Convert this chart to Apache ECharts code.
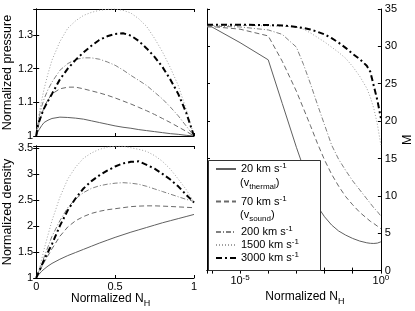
<!DOCTYPE html>
<html><head><meta charset="utf-8">
<script src="https://cdn.jsdelivr.net/npm/echarts@6.0.0/dist/echarts.min.js"></script>
<style>html,body{margin:0;padding:0;background:#fff}#c{width:415px;height:311px}</style>
</head><body><div id="c"></div>
<script>
// ---- data ----
const seriesNames = ['20', '70', '200', '1500', '3000'];
const legendLabels = ['20 km s{sup|-1}', '70 km s{sup|-1}', '200 km s{sup|-1}', '1500 km s{sup|-1}', '3000 km s{sup|-1}'];
const legendNotes = ['(v{sub|thermal})', '(v{sub|sound})'];
const nH = [0, 0.01, 0.02, 0.035, 0.05, 0.075, 0.1, 0.15, 0.2, 0.25, 0.3, 0.35, 0.4, 0.45, 0.5, 0.55, 0.6, 0.65, 0.7, 0.75, 0.8, 0.85, 0.9, 0.95, 1];
const pressure20   = [1.0, 1.012, 1.02, 1.031, 1.04, 1.047, 1.052, 1.056, 1.055, 1.053, 1.05, 1.045, 1.04, 1.035, 1.03, 1.026, 1.023, 1.019, 1.016, 1.013, 1.01, 1.007, 1.005, 1.002, 1.0];
const pressure70   = [1.0, 1.022, 1.04, 1.064, 1.085, 1.108, 1.125, 1.14, 1.145, 1.145, 1.14, 1.134, 1.128, 1.121, 1.113, 1.104, 1.095, 1.085, 1.075, 1.064, 1.052, 1.04, 1.027, 1.014, 1.0];
const pressure200  = [1.0, 1.032, 1.06, 1.088, 1.11, 1.138, 1.16, 1.195, 1.215, 1.227, 1.232, 1.232, 1.228, 1.22, 1.21, 1.196, 1.18, 1.165, 1.15, 1.13, 1.11, 1.086, 1.06, 1.03, 1.0];
const pressure1500 = [1.0, 1.037, 1.07, 1.106, 1.14, 1.185, 1.225, 1.28, 1.32, 1.342, 1.358, 1.367, 1.373, 1.376, 1.377, 1.373, 1.365, 1.348, 1.325, 1.29, 1.25, 1.203, 1.15, 1.08, 1.0];
const pressure3000 = [1.0, 1.03, 1.045, 1.065, 1.082, 1.104, 1.125, 1.168, 1.2, 1.226, 1.248, 1.268, 1.285, 1.296, 1.303, 1.305, 1.298, 1.282, 1.26, 1.235, 1.205, 1.168, 1.125, 1.07, 1.0];
const density20   = [1.0, 1.045, 1.08, 1.13, 1.17, 1.23, 1.28, 1.36, 1.43, 1.49, 1.55, 1.61, 1.67, 1.725, 1.78, 1.83, 1.88, 1.925, 1.97, 2.015, 2.06, 2.1, 2.14, 2.18, 2.22];
const density70   = [1.0, 1.06, 1.12, 1.21, 1.3, 1.43, 1.56, 1.8, 1.98, 2.1, 2.18, 2.24, 2.28, 2.31, 2.33, 2.35, 2.37, 2.38, 2.385, 2.385, 2.38, 2.373, 2.365, 2.357, 2.35];
const density200  = [1.0, 1.07, 1.15, 1.27, 1.4, 1.6, 1.8, 2.1, 2.35, 2.52, 2.64, 2.72, 2.77, 2.8, 2.82, 2.83, 2.82, 2.8, 2.76, 2.71, 2.66, 2.61, 2.56, 2.51, 2.47];
const density1500 = [1.0, 1.09, 1.18, 1.36, 1.55, 1.83, 2.1, 2.55, 2.9, 3.13, 3.3, 3.4, 3.47, 3.51, 3.53, 3.53, 3.5, 3.47, 3.43, 3.35, 3.24, 3.09, 2.9, 2.7, 2.45];
const density3000 = [1.0, 1.07, 1.14, 1.24, 1.35, 1.5, 1.65, 2.0, 2.3, 2.53, 2.72, 2.86, 2.97, 3.06, 3.14, 3.2, 3.23, 3.24, 3.17, 3.1, 3.0, 2.89, 2.76, 2.6, 2.45];
const nHlog = [6.7e-7, 1e-6, 1e-5, 1e-4, 3.16e-4, 1e-3, 1.78e-3, 3.16e-3, 5.62e-3, 1e-2, 1.78e-2, 3.16e-2, 5.62e-2, 0.1, 0.178, 0.316, 0.422, 0.562, 0.75, 1];
const mach20   = [32.6, 32.6, 30.5, 28.2, 22.35, 16.5, 13.8, 11.0, 8.6, 7.2, 6.1, 5.3, 4.75, 4.3, 3.95, 3.72, 3.65, 3.63, 3.68, 3.85];
const mach70   = [32.7, 32.65, 32.3, 31.4, 28.0, 24.0, 21.7, 19.4, 17.0, 14.8, 12.9, 11.3, 9.9, 8.8, 7.8, 7.0, 6.6, 6.3, 5.95, 5.6];
const mach200  = [32.7, 32.7, 32.6, 32.2, 31.6, 29.9, 27.6, 25.0, 22.2, 19.5, 16.8, 14.9, 13.4, 12.0, 10.8, 9.6, 9.0, 8.4, 7.9, 7.3];
const mach1500 = [32.8, 32.8, 32.8, 32.75, 32.7, 32.6, 32.3, 31.8, 31.2, 30.6, 29.9, 29.2, 28.4, 27.3, 26.0, 24.4, 23.2, 21.7, 19.6, 16.8];
const mach3000 = [32.9, 32.9, 32.9, 32.85, 32.8, 32.6, 32.45, 32.25, 31.95, 31.6, 31.1, 30.5, 29.8, 29.0, 28.3, 27.4, 26.6, 24.7, 22.8, 20.4];
const pressureTicks = ['1', '1.1', '1.2', '1.3'];
const densityTicks = ['1', '1.5', '2', '2.5', '3', '3.5'];
const nHTicks = ['0', '0.5', '1'];
const logTickLabels = {'-5': '10{sup|-5}', '0': '10{sup|0}'};

// ---- styling ----
const FONT = 'Liberation Sans, Arial, Helvetica, sans-serif';
const lineStyles = [
  {color: '#606060', width: 1, type: 'solid'},
  {color: '#6a6a6a', width: 1, type: [5, 3]},
  {color: '#808080', width: 1, type: [5, 2, 1, 2]},
  {color: '#a0a0a0', width: 1, type: [1, 2]},
  {color: '#000', width: 2, type: [6, 3, 2, 3]}
];
const legendCenters = [169, 201.5, 232, 245, 258];
const noteCenters = [182.5, 215];
const pressureSets = [pressure20, pressure70, pressure200, pressure1500, pressure3000];
const densitySets = [density20, density70, density200, density1500, density3000];
const machSets = [mach20, mach70, mach200, mach1500, mach3000];

const axLine = {show: true, lineStyle: {color: '#000', width: 1}};
const tick = {show: true, inside: true, length: 3, lineStyle: {color: '#000'}};
const lbl = {fontFamily: FONT, fontSize: 11, color: '#000'};
const supRich = {sup: {fontFamily: FONT, fontSize: 8, padding: [0, 0, 6, 0]}, sub: {fontFamily: FONT, fontSize: 8, padding: [8, 0, 0, 0]}};

function linAxis(grid, pos, min, max, interval, showLabel, ticks, extra) {
  return Object.assign({
    type: 'value', gridIndex: grid, position: pos, min: min, max: max, interval: interval,
    axisLine: axLine, axisTick: tick, splitLine: {show: false},
    axisLabel: Object.assign({show: showLabel, margin: 3, showMaxLabel: true, showMinLabel: true,
      formatter: function (v) { const s = String(+v.toFixed(2)); return ticks && ticks.indexOf(s) >= 0 ? s : ''; }}, lbl)
  }, extra || {});
}
function logLabel(v) {
  const e = Math.log10(v); const r = Math.round(e);
  if (Math.abs(e - r) > 1e-6) return '';
  return logTickLabels[String(r)] || '';
}
const xName = {fontFamily: FONT, fontSize: 12, color: '#000', rich: {sub: {fontFamily: FONT, fontSize: 9, padding: [9, 0, 0, 0]}}};

const xAxis = [
  linAxis(0, 'bottom', 0, 1, 0.5, false, nHTicks),
  linAxis(0, 'top', 0, 1, 0.5, false, nHTicks),
  linAxis(1, 'bottom', 0, 1, 0.5, true, nHTicks, {name: 'Normalized N{sub|H}', nameLocation: 'middle', nameGap: 10,
    nameTextStyle: Object.assign({padding: [0, 9, 0, 0]}, xName)}),
  linAxis(1, 'top', 0, 1, 0.5, false, nHTicks),
  {type: 'log', logBase: 10, gridIndex: 2, position: 'bottom', min: 6.7e-7, max: 1,
    axisLine: axLine, axisTick: tick, splitLine: {show: false}, minorTick: {show: false},
    axisLabel: Object.assign({margin: 3, formatter: logLabel, rich: supRich, showMinLabel: false}, lbl),
    name: 'Normalized N{sub|H}', nameLocation: 'middle', nameGap: 10,
    nameTextStyle: Object.assign({padding: [0, 0, 0, 22]}, xName)},
  {type: 'log', logBase: 10, gridIndex: 2, position: 'top', min: 6.7e-7, max: 1,
    axisLine: axLine, axisTick: tick, splitLine: {show: false}, axisLabel: {show: false}}
];
const yName = {fontFamily: FONT, fontSize: 12.5, color: '#000'};
const yAxis = [
  linAxis(0, 'left', 1, 1.377, 0.1, true, pressureTicks, {name: 'Normalized pressure', nameLocation: 'middle', nameGap: 19, nameTextStyle: yName}),
  linAxis(0, 'right', 1, 1.377, 0.1, false, pressureTicks),
  linAxis(1, 'left', 1, 3.534, 0.5, true, densityTicks, {name: 'Normalized density', nameLocation: 'middle', nameGap: 19, nameTextStyle: yName}),
  linAxis(1, 'right', 1, 3.534, 0.5, false, densityTicks),
  Object.assign(linAxis(2, 'right', 0, 35, 5, true, null, {name: 'M', nameLocation: 'middle', nameGap: 16, nameTextStyle: yName}),
    {axisLabel: Object.assign({margin: 4, showMaxLabel: true}, lbl)}),
  linAxis(2, 'left', 0, 35, 5, false, null)
];

const series = [];
[[pressureSets, nH, 0, 0], [densitySets, nH, 2, 2], [machSets, nHlog, 4, 4]].forEach(function (p) {
  p[0].forEach(function (vals, i) {
    series.push({
      name: seriesNames[i], type: 'line', xAxisIndex: p[2], yAxisIndex: p[3],
      data: vals.map(function (v, k) { return [p[1][k], v]; }),
      symbol: 'none', showSymbol: false, smooth: false,
      lineStyle: lineStyles[i], itemStyle: {color: lineStyles[i].color}, silent: true, animation: false, z: 2
    });
  });
});

const legend = seriesNames.map(function (n, i) {
  return {
    data: [n], left: 215, top: legendCenters[i] - 7, orient: 'vertical', padding: 0, itemGap: 0,
    itemWidth: 20, itemHeight: 10, selectedMode: false, z: 20,
    itemStyle: {opacity: 0, borderWidth: 0},
    formatter: function () { return legendLabels[i]; },
    textStyle: {fontFamily: FONT, fontSize: 11, color: '#000', rich: supRich}
  };
});

const graphic = [{type: 'rect', shape: {x: 208.5, y: 160.5, width: 112, height: 110}, z: 10,
    style: {fill: '#fff', stroke: '#333', lineWidth: 1}}];
legendNotes.forEach(function (t, i) {
  graphic.push({type: 'text', x: 240, y: noteCenters[i], z: 20,
    style: {text: t, fontFamily: FONT, fontSize: 11, fill: '#000', verticalAlign: 'middle', align: 'left', rich: supRich}});
});

const chart = echarts.init(document.getElementById('c'), null, {renderer: 'canvas'});
chart.setOption({
  animation: false,
  backgroundColor: '#fff',
  grid: [
    {left: 33, top: 9, width: 161, height: 127},
    {left: 33, top: 146, width: 161, height: 132},
    {left: 207, top: 9, width: 176, height: 269}
  ],
  xAxis: xAxis, yAxis: yAxis, series: series, legend: legend, graphic: graphic
});
</script></body></html>
